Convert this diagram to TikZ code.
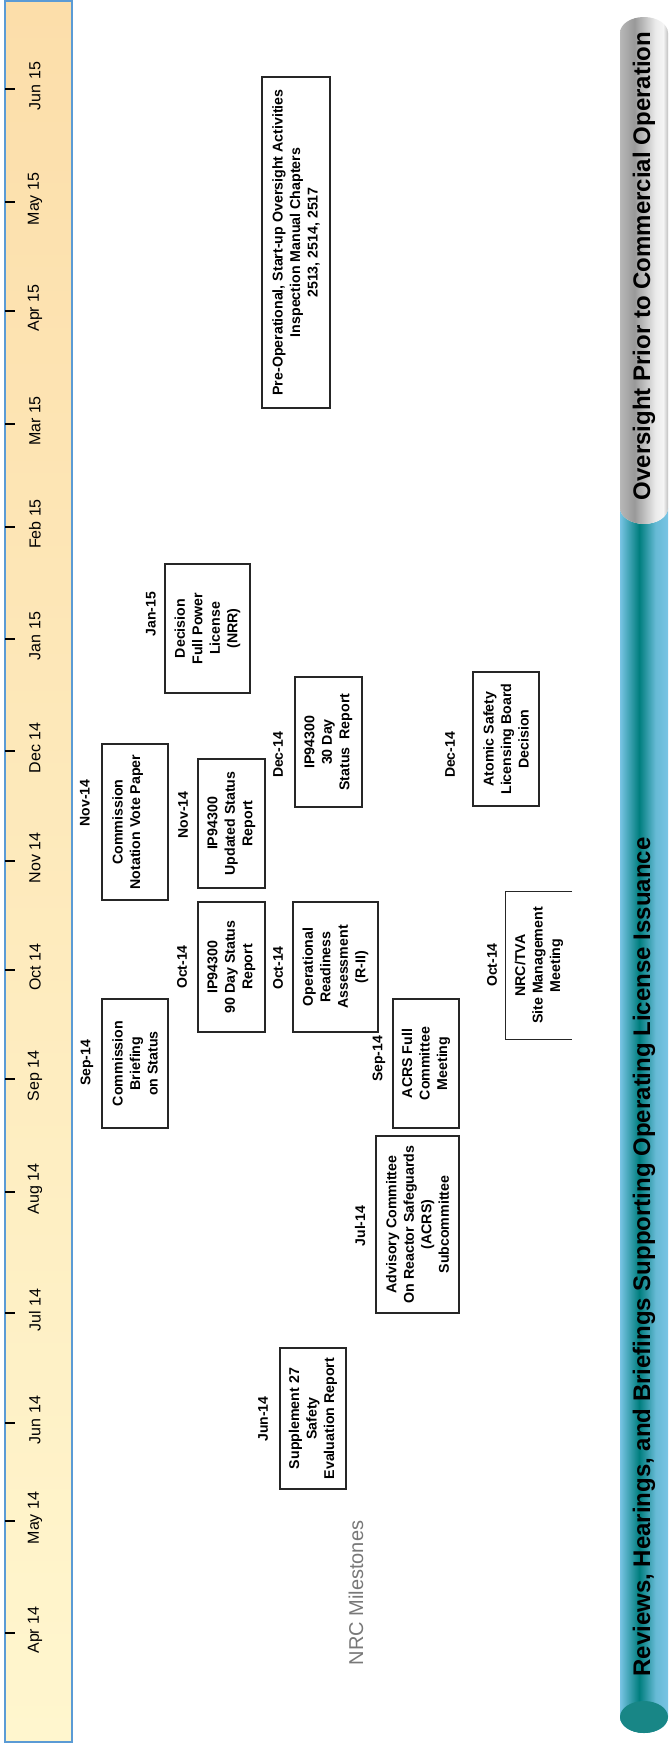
\documentclass[tikz,border=0pt]{standalone}
\usepackage{fontspec}
\setmainfont{Liberation Sans}
\definecolor{stripblue}{RGB}{91,155,213}
\definecolor{striptop}{RGB}{252,222,170}
\definecolor{stripbot}{RGB}{255,246,206}
\definecolor{tealdark}{RGB}{0,126,126}
\definecolor{teallight}{RGB}{120,196,228}
\definecolor{tealcap}{RGB}{24,134,134}
\definecolor{milegray}{RGB}{120,120,120}
\pgfdeclarehorizontalshading{tealcyl}{100bp}{color(0bp)=(teallight); color(25bp)=(teallight); color(45bp)=(tealdark); color(62bp)=(teallight!85!tealdark); color(75bp)=(teallight); color(100bp)=(teallight)}
\pgfdeclarehorizontalshading{greycyl}{100bp}{color(0bp)=(black!28); color(25bp)=(black!28); color(40bp)=(black!40); color(62bp)=(black!8); color(70bp)=(black!4); color(75bp)=(black!25); color(100bp)=(black!25)}
\tikzset{
  box/.style={draw=black!85, line width=1.3pt, rotate=90, align=center, inner sep=0pt,
    font=\bfseries\fontsize{14.2}{17.5}\selectfont},
  openbox/.style={rotate=90, align=center, inner sep=0pt,
    font=\bfseries\fontsize{14.2}{17.5}\selectfont},
  datelab/.style={rotate=90, inner sep=0pt, font=\bfseries\fontsize{14}{17}\selectfont},
  monthlab/.style={rotate=90, inner sep=0pt, font=\fontsize{16}{19}\selectfont},
  ticktk/.style={line width=1.6pt, black},
  barlab/.style={rotate=90, inner sep=0pt, font=\bfseries\fontsize{24}{28}\selectfont}
}
\begin{document}
\begin{tikzpicture}[x=1pt,y=-1pt]
\useasboundingbox (0,0) rectangle (670,1743);
\fill[white] (0,0) rectangle (670,1743);
% timeline strip
\shade[top color=striptop, bottom color=stripbot] (5,1) rectangle (72,1742);
\draw[stripblue, line width=2pt] (5,1) rectangle (72,1742);
\foreach \lab/\yy [count=\i from 0] in {Jun 15/89,May 15/202,Apr 15/311,Mar 15/424,Feb 15/527,Jan 15/639,Dec 14/751,Nov 14/861,Oct 14/970,Sep 14/1079,Aug 14/1192,Jul 14/1313,Jun 14/1423,May 14/1521,Apr 14/1633}{
  \node[monthlab] (m\i) at (35,\yy-3) {\lab};
  \draw[ticktk] (5,\yy) -- (15,\yy);
}
% cylinder bar
\shade[shading=tealcyl] (620,508) arc[start angle=180, end angle=360, x radius=24pt, y radius=16pt]
  -- (668,1717) arc[start angle=0, end angle=-180, x radius=24pt, y radius=16pt] -- cycle;
\shade[shading=greycyl] (668,508) -- (668,33) arc[start angle=0, end angle=180, x radius=24pt, y radius=16pt]
  -- (620,508) arc[start angle=180, end angle=360, x radius=24pt, y radius=16pt] -- cycle;
\fill[tealcap] (644,1717) ellipse[x radius=24pt, y radius=16pt];
\node[barlab] (ovtxt) at (644,266) {Oversight Prior to Commercial Operation};
\node[barlab] (revtxt) at (644,1257) {Reviews, Hearings, and Briefings Supporting Operating License Issuance};
% NRC milestones
\node[rotate=90, inner sep=0pt, text=milegray, font=\fontsize{20}{24}\selectfont] (nrc) at (356,1593) {NRC Milestones};
% boxes
\node[box, minimum width=331pt, minimum height=68pt] (preop) at (296,242.5)
  {Pre-Operational, Start-up Oversight Activities\\Inspection Manual Chapters\\2513, 2514, 2517};
\node[box, minimum width=129pt, minimum height=85pt] (decision) at (207.5,628.5)
  {Decision\\Full Power\\License\\(NRR)};
\node[datelab] (ldecision) at (151,614) {Jan-15};
\node[box, minimum width=156pt, minimum height=66pt] (notation) at (135,822)
  {Commission\\Notation Vote Paper\\\mbox{}};
\node[datelab] (lnotation) at (85,803) {Nov-14};
\node[box, minimum width=129pt, minimum height=67pt] (upd) at (231.5,823.5)
  {IP94300\\Updated Status\\Report};
\node[datelab] (lupd) at (183,815) {Nov-14};
\node[box, minimum width=130pt, minimum height=67pt] (day30) at (328.5,742)
  {IP94300\\30 Day\\Status\ \ Report};
\node[datelab] (lday30) at (278,755) {Dec-14};
\node[box, minimum width=134pt, minimum height=66pt] (asl) at (506,739)
  {Atomic Safety\\Licensing Board\\Decision};
\node[datelab] (lasl) at (450,755) {Dec-14};
\node[box, minimum width=129pt, minimum height=66pt] (brief) at (135,1063.5)
  {Commission\\Briefing\\on Status};
\node[datelab] (lbrief) at (87,1063) {Sep-14};
\node[box, minimum width=130pt, minimum height=67pt] (day90) at (231.5,967)
  {IP94300\\90 Day Status\\Report};
\node[datelab] (lday90) at (182,967) {Oct-14};
\node[box, minimum width=130pt, minimum height=85pt] (ora) at (335.5,967)
  {Operational\\Readiness\\Assessment\\(R-II)};
\node[datelab] (lora) at (278,968) {Oct-14};
\node[box, minimum width=129pt, minimum height=66pt] (acrsfull) at (426,1063.5)
  {ACRS Full\\Committee\\Meeting};
\node[datelab] (lacrsfull) at (379,1059) {Sep-14};
\node[openbox, minimum width=147pt, minimum height=66pt] (tva) at (539,965.5)
  {NRC/TVA\\Site Management\\Meeting};
\draw[black!85, line width=1.3pt] (tva.south east) -- (tva.north east) -- (tva.north west) -- (tva.south west);
\node[datelab] (ltva) at (492,965) {Oct-14};
\node[box, minimum width=177pt, minimum height=83pt] (advisory) at (417.5,1224.5)
  {Advisory Committee\\On Reactor Safeguards\\(ACRS)\\Subcommittee};
\node[datelab] (ladvisory) at (360,1226) {Jul-14};
\node[box, minimum width=141pt, minimum height=66pt] (supp) at (313,1418.5)
  {Supplement 27\\Safety\\Evaluation Report};
\node[datelab] (lsupp) at (263,1419) {Jun-14};
\end{tikzpicture}
\end{document}
